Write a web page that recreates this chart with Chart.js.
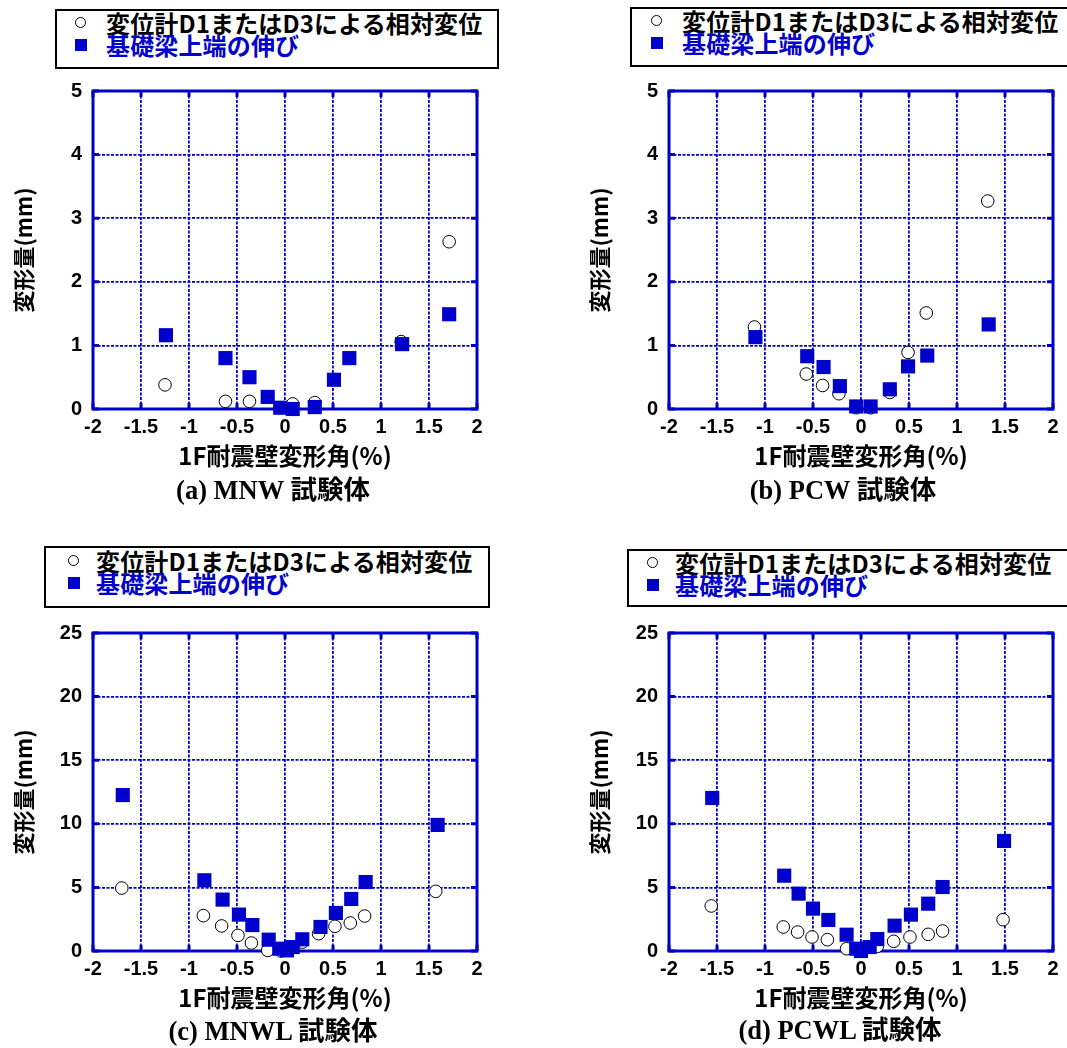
<!DOCTYPE html>
<html>
<head>
<meta charset="utf-8">
<script src="https://cdn.jsdelivr.net/npm/chart.js@4/dist/chart.umd.min.js"></script>
<style>
  html, body { margin: 0; padding: 0; background: #fff; width: 1067px; height: 1048px; overflow: hidden; position: relative; }
  .cv { position: absolute; }
  .leg { position: absolute; border: 2px solid #000; box-sizing: border-box; background: #fff;
         font-family: "Noto Sans CJK JP", sans-serif; font-weight: bold; font-size: 24px; line-height: 22px; letter-spacing: 0.15px; }
  .leg .row { position: relative; white-space: nowrap; }
  .leg .blue { color: #0000cc; }
  .sym { position: absolute; top: 5px; width: 11px; height: 11px; box-sizing: border-box; }
  .circ { border: 1.3px solid #000; border-radius: 50%; }
  .sq { background: #0000cc; width: 12px; height: 12px; }
  .cap { position: absolute; width: 300px; text-align: center; white-space: nowrap;
         font-family: "Liberation Serif", "Noto Sans CJK JP", serif; font-weight: bold; font-size: 26.5px; line-height: 28px; }
</style>
</head>
<body>

<div class="leg" style="left:55px;top:9px;width:444px;height:60px;padding-top:1px">
  <div class="row" style="padding-left:49px"><span class="sym circ" style="left:18px"></span>変位計D1またはD3による相対変位</div>
  <div class="row blue" style="padding-left:49px"><span class="sym sq" style="left:18px"></span>基礎梁上端の伸び</div>
</div>
<div class="leg" style="left:630px;top:7px;width:445px;height:60px;padding-top:1px">
  <div class="row" style="padding-left:50px"><span class="sym circ" style="left:19px"></span>変位計D1またはD3による相対変位</div>
  <div class="row blue" style="padding-left:50px"><span class="sym sq" style="left:19px"></span>基礎梁上端の伸び</div>
</div>
<div class="leg" style="left:44px;top:546px;width:446px;height:62px;padding-top:2px">
  <div class="row" style="padding-left:50px"><span class="sym circ" style="left:22px"></span>変位計D1またはD3による相対変位</div>
  <div class="row blue" style="padding-left:50px"><span class="sym sq" style="left:22px"></span>基礎梁上端の伸び</div>
</div>
<div class="leg" style="left:627px;top:549px;width:445px;height:58px;padding-top:1px">
  <div class="row" style="padding-left:46px"><span class="sym circ" style="left:18px"></span>変位計D1またはD3による相対変位</div>
  <div class="row blue" style="padding-left:46px"><span class="sym sq" style="left:18px"></span>基礎梁上端の伸び</div>
</div>

<canvas id="cA" class="cv" width="533" height="400" style="left:0;top:80px"></canvas>
<canvas id="cB" class="cv" width="533" height="400" style="left:576px;top:80px"></canvas>
<canvas id="cC" class="cv" width="533" height="400" style="left:0;top:622px"></canvas>
<canvas id="cD" class="cv" width="533" height="400" style="left:576px;top:622px"></canvas>

<div class="cap" style="left:123px;top:476px">(a) MNW 試験体</div>
<div class="cap" style="left:693px;top:476px">(b) PCW 試験体</div>
<div class="cap" style="left:123px;top:1017px">(c) MNWL 試験体</div>
<div class="cap" style="left:690px;top:1016px">(d) PCWL 試験体</div>

<script>
// 変位計D1またはD3による相対変位 (○) / 基礎梁上端の伸び (■)
const mnwCircleX = [-1.25, -0.62, -0.37, -0.05, 0.08, 0.31, 1.21, 1.71];
const mnwCircleY = [0.38, 0.12, 0.12, 0.02, 0.08, 0.10, 1.06, 2.63];
const mnwSquareX = [-1.24, -0.62, -0.37, -0.18, -0.05, 0.08, 0.31, 0.51, 0.67, 1.22, 1.71];
const mnwSquareY = [1.16, 0.80, 0.50, 0.19, 0.02, 0.0, 0.03, 0.46, 0.80, 1.02, 1.49];

const pcwCircleX = [-1.11, -0.57, -0.40, -0.23, -0.05, 0.10, 0.30, 0.49, 0.68, 1.32];
const pcwCircleY = [1.29, 0.55, 0.37, 0.24, 0.02, 0.02, 0.26, 0.89, 1.51, 3.27];
const pcwSquareX = [-1.10, -0.56, -0.39, -0.22, -0.05, 0.10, 0.30, 0.49, 0.69, 1.33];
const pcwSquareY = [1.13, 0.83, 0.66, 0.36, 0.04, 0.04, 0.31, 0.67, 0.84, 1.33];

const mnwlCircleX = [-1.70, -0.85, -0.66, -0.49, -0.35, -0.18, -0.04, 0.18, 0.35, 0.52, 0.68, 0.83, 1.57];
const mnwlCircleY = [4.95, 2.78, 1.97, 1.23, 0.63, 0.05, 0.0, 0.70, 1.36, 1.94, 2.20, 2.75, 4.69];
const mnwlSquareX = [-1.69, -0.84, -0.65, -0.48, -0.34, -0.17, -0.06, 0.02, 0.08, 0.18, 0.37, 0.53, 0.69, 0.84, 1.59];
const mnwlSquareY = [12.26, 5.56, 4.04, 2.86, 2.04, 0.89, 0.18, 0.05, 0.31, 0.92, 1.89, 2.99, 4.09, 5.42, 9.91];

const pcwlCircleX = [-1.56, -0.81, -0.66, -0.51, -0.35, -0.15, 0.17, 0.34, 0.51, 0.70, 0.85, 1.48];
const pcwlCircleY = [3.54, 1.89, 1.49, 1.10, 0.89, 0.18, 0.37, 0.76, 1.10, 1.31, 1.57, 2.46];
const pcwlSquareX = [-1.55, -0.80, -0.65, -0.50, -0.34, -0.15, -0.05, 0.00, 0.09, 0.17, 0.35, 0.52, 0.70, 0.85, 1.49];
const pcwlSquareY = [12.03, 5.92, 4.51, 3.33, 2.44, 1.28, 0.18, 0.0, 0.31, 0.94, 1.99, 2.86, 3.72, 5.03, 8.65];

const xMin = -2, xMax = 2, xStep = 0.5;
const xTitle = "1F耐震壁変形角(%)";
const yTitle = "変形量(mm)";

const BLUE = "#0000cc";

Chart.defaults.font.family = '"Liberation Sans", Arial, sans-serif';
Chart.defaults.color = "#000";

const pts = (xs, ys) => xs.map((x, i) => ({ x, y: ys[i] }));
const fmt = v => String(Number(v.toFixed(2)));

// blue box round the plot with short ticks on every edge
const frame = {
  id: "frame",
  beforeDatasetsDraw(chart) {
    const { ctx, chartArea: a, scales: { x, y } } = chart;
    ctx.save();
    ctx.strokeStyle = BLUE;
    ctx.lineWidth = 3;
    ctx.strokeRect(a.left, a.top, a.right - a.left, a.bottom - a.top);
    ctx.beginPath();
    x.ticks.forEach(t => {
      const px = x.getPixelForValue(t.value);
      ctx.moveTo(px, a.top); ctx.lineTo(px, a.top + 6);
      ctx.moveTo(px, a.bottom); ctx.lineTo(px, a.bottom - 6);
    });
    y.ticks.forEach(t => {
      const py = y.getPixelForValue(t.value);
      ctx.moveTo(a.left, py); ctx.lineTo(a.left + 6, py);
      ctx.moveTo(a.right, py); ctx.lineTo(a.right - 6, py);
    });
    ctx.stroke();
    ctx.restore();
  }
};

function makeChart(id, circX, circY, sqX, sqY, yMax, yStep) {
  return new Chart(document.getElementById(id), {
    type: "scatter",
    data: {
      datasets: [
        {
          label: "基礎梁上端の伸び",
          data: pts(sqX, sqY),
          pointStyle: "rect",
          pointRadius: 10,
          backgroundColor: BLUE,
          borderColor: BLUE,
          borderWidth: 0,
          clip: false
        },
        {
          label: "変位計D1またはD3による相対変位",
          data: pts(circX, circY),
          pointStyle: "circle",
          pointRadius: 6.3,
          backgroundColor: "#fff",
          borderColor: "#000",
          borderWidth: 1,
          clip: false
        }
      ]
    },
    options: {
      responsive: false,
      animation: false,
      events: [],
      layout: { padding: { top: 11, right: 56, left: 0, bottom: 0 } },
      plugins: { legend: { display: false }, tooltip: { enabled: false } },
      scales: {
        x: {
          type: "linear",
          min: xMin, max: xMax,
          afterFit: s => { s.height = 71; s.paddingLeft = 0; s.paddingRight = 0; },
          border: { display: false, dash: [3, 1.5] },
          grid: { color: BLUE, lineWidth: 1.8, drawTicks: false },
          ticks: { stepSize: xStep, padding: 6, maxRotation: 0, autoSkip: false,
                   callback: fmt, font: { size: 20, weight: "bold" } },
          title: { display: true, text: xTitle, padding: { top: 0, bottom: 10 },
                   font: { family: '"Noto Sans CJK JP"', size: 24, weight: "bold" } }
        },
        y: {
          min: 0, max: yMax,
          afterFit: s => { s.width = 93; s.paddingTop = 0; s.paddingBottom = 0; },
          border: { display: false, dash: [3, 1.5] },
          grid: { color: BLUE, lineWidth: 1.8, drawTicks: false },
          ticks: { stepSize: yStep, padding: 11, callback: fmt, font: { size: 20, weight: "bold" } },
          title: { display: true, text: yTitle, padding: { top: 10, bottom: 0 },
                   font: { family: '"Noto Sans CJK JP"', size: 22, weight: "bold" } }
        }
      }
    },
    plugins: [frame]
  });
}

makeChart("cA", mnwCircleX, mnwCircleY, mnwSquareX, mnwSquareY, 5, 1);
makeChart("cB", pcwCircleX, pcwCircleY, pcwSquareX, pcwSquareY, 5, 1);
makeChart("cC", mnwlCircleX, mnwlCircleY, mnwlSquareX, mnwlSquareY, 25, 5);
makeChart("cD", pcwlCircleX, pcwlCircleY, pcwlSquareX, pcwlSquareY, 25, 5);
</script>
</body>
</html>
